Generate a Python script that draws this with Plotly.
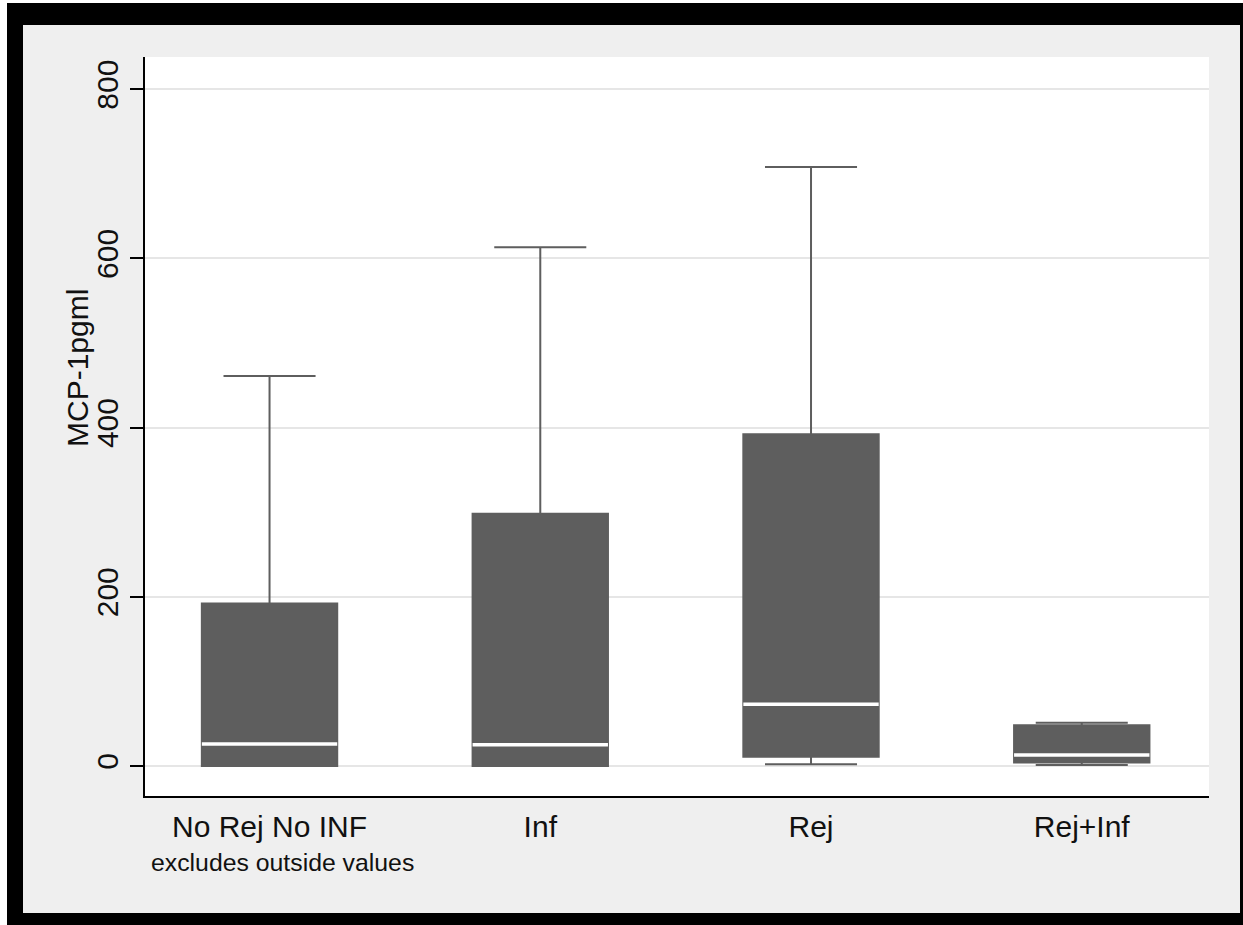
import plotly.graph_objects as go

# Group labels and precomputed box statistics (MCP-1, pg/ml)
groups = ["No Rej No INF", "Inf", "Rej", "Rej+Inf"]
positions = [0, 1, 2, 3]
lower_whisker = [0, 0, 2, 1]
q1 = [0, 0, 11, 4]
median = [26, 25, 73, 13]
q3 = [192, 298, 392, 48]
upper_whisker = [461, 613, 708, 51]
y_ticks = [0, 200, 400, 600, 800]

W, H = 1243, 925
ML, MR, MT, MB = 145, 34, 57, 129
PW, PH = W - ML - MR, H - MT - MB

BOX_GRAY = "#5e5e5e"
TEXT = "#111111"
FONT = "Liberation Sans, Arial, sans-serif"
BOX_WIDTH = 0.5


def px_x(px):
    return (px - ML) / PW


def px_y(py):
    return (H - MB - py) / PH


fig = go.Figure()

for i, name in enumerate(groups):
    fig.add_trace(go.Box(
        x=[positions[i]],
        q1=[q1[i]], median=[median[i]], q3=[q3[i]],
        lowerfence=[lower_whisker[i]], upperfence=[upper_whisker[i]],
        width=BOX_WIDTH, whiskerwidth=0.68,
        fillcolor=BOX_GRAY,
        line=dict(color=BOX_GRAY, width=2),
        boxpoints=False, name=name, showlegend=False,
        hoverinfo="skip",
    ))
    # white median bar across the box
    fig.add_trace(go.Scatter(
        x=[positions[i] - BOX_WIDTH / 2, positions[i] + BOX_WIDTH / 2],
        y=[median[i], median[i]],
        mode="lines", line=dict(color="white", width=3.5),
        showlegend=False, hoverinfo="skip",
    ))

# outer frame: white edge strip, then black border
frame = [
    (0, 0, 7, H, "white"), (0, 0, W, 3, "white"),
    (7, 3, 23, H, "black"), (7, 3, W, 25, "black"),
    (1240, 3, W, H, "black"), (7, 913, W, H, "black"),
]
shapes = []
for x0, y0, x1, y1, c in frame:
    shapes.append(dict(
        type="rect", xref="paper", yref="paper",
        x0=px_x(x0), x1=px_x(x1), y0=px_y(y1), y1=px_y(y0),
        fillcolor=c, line=dict(width=0), layer="above",
    ))

fig.update_layout(
    width=W, height=H,
    margin=dict(l=ML, r=MR, t=MT, b=MB, pad=0),
    paper_bgcolor="#efefef", plot_bgcolor="white",
    font=dict(family=FONT, color=TEXT),
    showlegend=False,
    shapes=shapes,
    xaxis=dict(
        range=[-0.46, 3.47], tickvals=positions, ticktext=groups,
        showline=True, linecolor="black", linewidth=2,
        ticks="", showgrid=False, zeroline=False,
        tickfont=dict(size=30, family=FONT, color=TEXT),
        ticklabelstandoff=3,
    ),
    yaxis=dict(
        range=[-35.5, 838], tickvals=y_ticks,
        showline=True, linecolor="black", linewidth=2,
        ticks="outside", ticklen=13, tickwidth=2, tickcolor="black",
        tickangle=-90,
        tickfont=dict(size=30, family=FONT, color=TEXT),
        showgrid=True, gridcolor="#e6e6e6", gridwidth=1.5,
        zeroline=False,
    ),
    annotations=[
        dict(
            text="excludes outside values", xref="paper", yref="paper",
            x=px_x(149), y=px_y(862), xanchor="left", yanchor="middle",
            showarrow=False, font=dict(size=24.8, family=FONT, color=TEXT),
        ),
        dict(
            text="MCP-1pgml", xref="paper", yref="paper", textangle=-90,
            x=px_x(77), y=px_y(368), xanchor="center", yanchor="middle",
            showarrow=False, font=dict(size=30, family=FONT, color=TEXT),
        ),
    ],
)

fig.write_html("out.html")
